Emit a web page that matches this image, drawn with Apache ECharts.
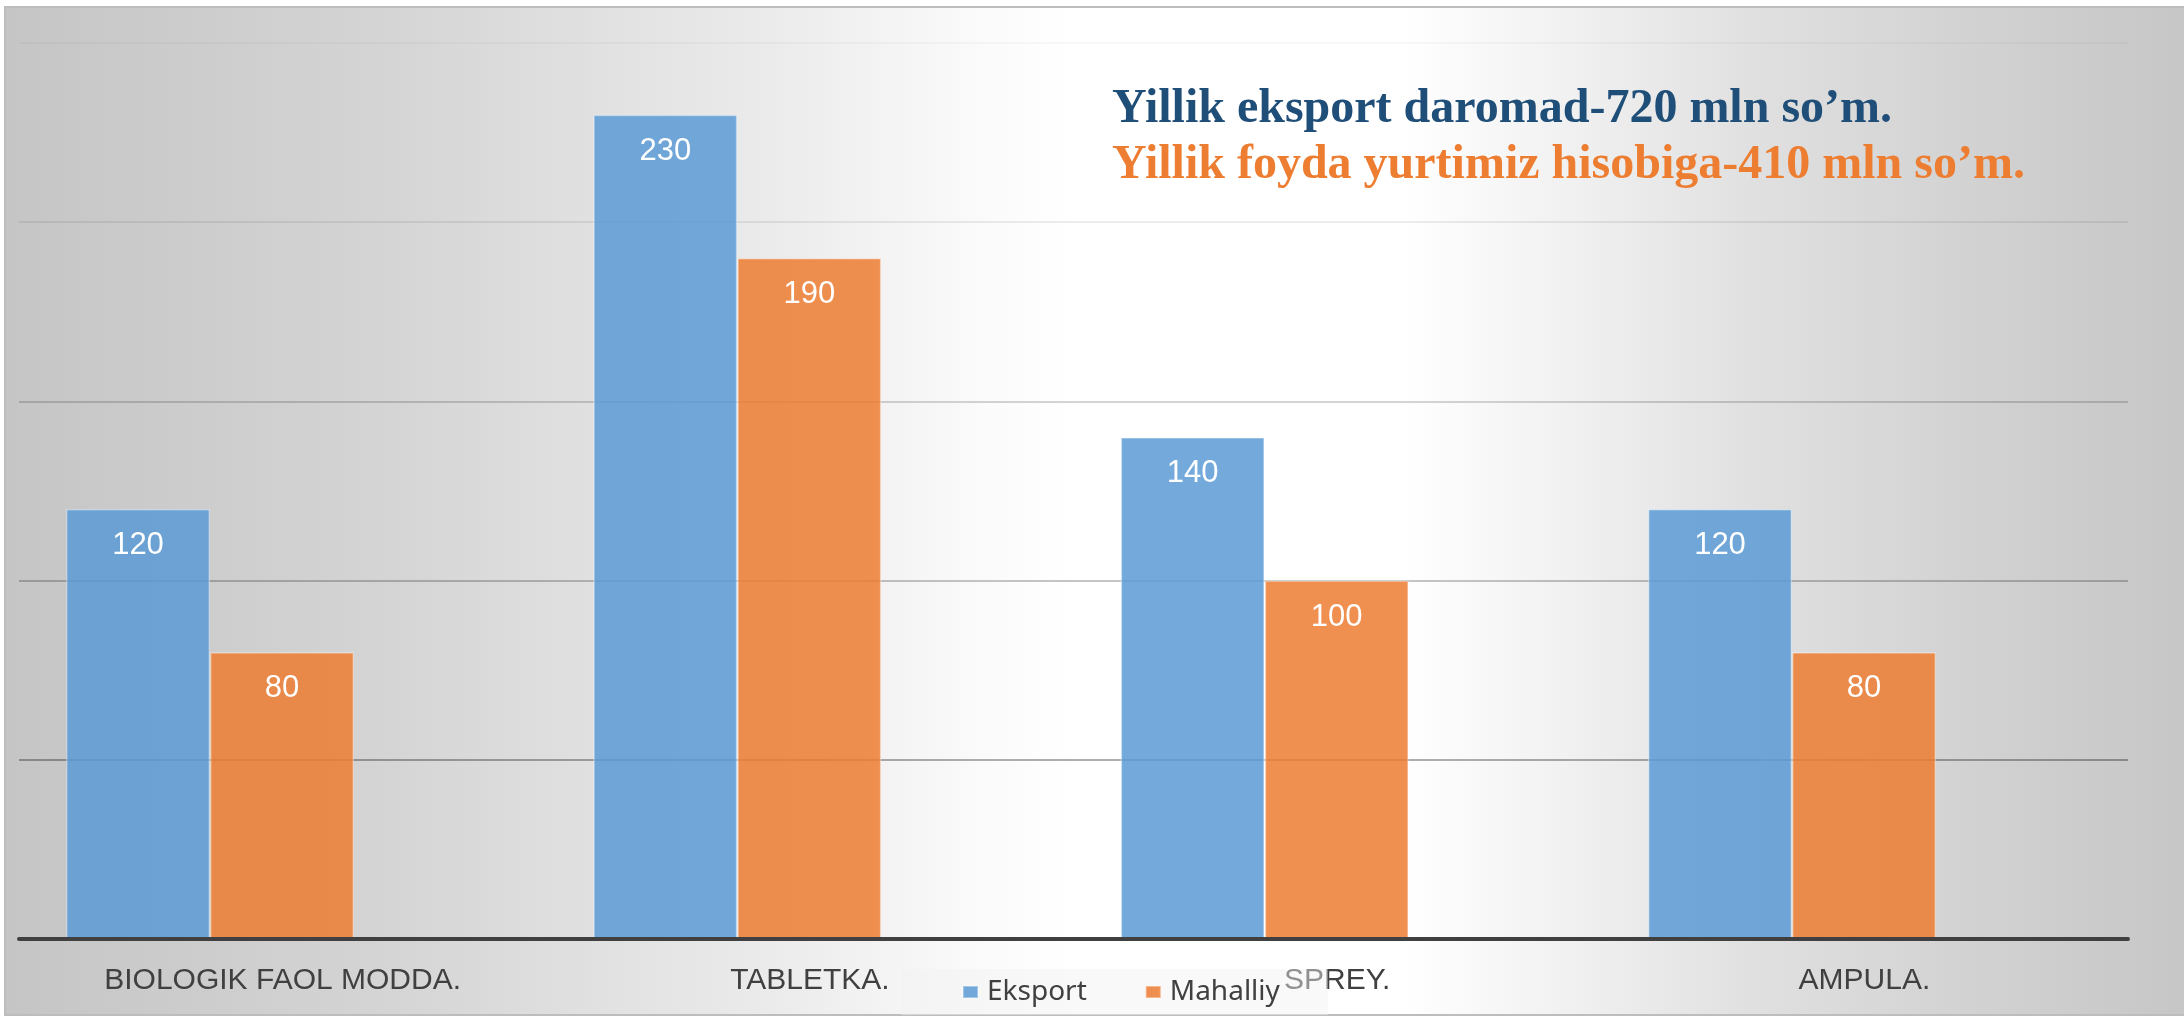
<!DOCTYPE html>
<html>
<head>
<meta charset="utf-8">
<script src="https://cdn.jsdelivr.net/npm/echarts@6/dist/echarts.min.js"></script>
<style>
html,body{margin:0;padding:0;background:#fff;}
#chart{width:2184px;height:1019px;}
</style>
</head>
<body>
<div id="chart"></div>
<script>
const categories = ['BIOLOGIK FAOL MODDA.', 'TABLETKA.', 'SPREY.', 'AMPULA.'];
const seriesNames = ['Eksport', 'Mahalliy'];
const eksport = [120, 230, 140, 120];
const mahalliy = [80, 190, 100, 80];
const titleLine1 = 'Yillik eksport daromad-720 mln so’m.';
const titleLine2 = 'Yillik foyda yurtimiz hisobiga-410 mln so’m.';
const yMin = 0, yMax = 250, yStep = 50;

const chart = echarts.init(document.getElementById('chart'), null, {renderer: 'canvas'});

const bgFill = new echarts.graphic.LinearGradient(0, 0, 1, 0, [
  {offset: 0, color: '#c5c5c5'},
  {offset: 0.18, color: '#d5d5d5'},
  {offset: 0.35, color: '#ebebeb'},
  {offset: 0.45, color: '#fbfbfb'},
  {offset: 0.49, color: '#ffffff'},
  {offset: 0.64, color: '#ffffff'},
  {offset: 0.72, color: '#f0f0f0'},
  {offset: 0.80, color: '#e0e0e0'},
  {offset: 0.90, color: '#d2d2d2'},
  {offset: 1, color: '#c6c6c6'}
]);

const labelStyle = {
  show: true, position: 'insideTop', distance: 21,
  color: '#ffffff', fontSize: 31, fontFamily: 'Liberation Sans, Arial, sans-serif'
};

const option = {
  animation: false,
  backgroundColor: '#ffffff',
  graphic: [{
    type: 'rect', z: -100, silent: true,
    shape: {x: 5, y: 7, width: 2185, height: 1008},
    style: {fill: bgFill, stroke: '#bdbdbd', lineWidth: 2}
  }],
  title: [{
    text: titleLine1, left: 1112, top: 86, padding: 0,
    textStyle: {fontFamily: 'Liberation Serif, Times New Roman, serif', fontWeight: 'bold', fontSize: 48, color: '#1f4e79'}
  }, {
    text: titleLine2, left: 1112, top: 142, padding: 0,
    textStyle: {fontFamily: 'Liberation Serif, Times New Roman, serif', fontWeight: 'bold', fontSize: 48, color: '#ed7d31'}
  }],
  legend: {
    data: seriesNames, left: 902, top: 969, padding: [9, 48, 9, 60],
    itemWidth: 15, itemHeight: 12, itemGap: 58, icon: 'rect',
    backgroundColor: 'rgba(242,242,242,0.45)', z: 10,
    textStyle: {fontFamily: 'Noto Sans, sans-serif', fontSize: 28, color: '#404040', padding: [0, 0, 0, 4]}
  },
  grid: [
    {left: 19, right: 56, top: 43, bottom: 80},
    {left: 210, right: 392, top: 43, bottom: 80}
  ],
  xAxis: [{
    type: 'category', gridIndex: 0, data: categories, z: 5,
    axisLine: {lineStyle: {color: '#404040', width: 4}},
    axisTick: {show: false},
    axisLabel: {interval: 0, margin: 27, fontSize: 30, fontFamily: 'Liberation Sans, Arial, sans-serif', color: '#404040'}
  }, {
    type: 'category', gridIndex: 1, data: categories, show: false, boundaryGap: false
  }],
  yAxis: [{
    type: 'value', gridIndex: 0, min: yMin, max: yMax, interval: yStep,
    axisLabel: {show: false}, axisLine: {show: false}, axisTick: {show: false},
    splitLine: {lineStyle: {width: 1.5, color: [
      'rgba(0,0,0,0)', 'rgba(0,0,0,0.42)', 'rgba(0,0,0,0.30)', 'rgba(0,0,0,0.22)', 'rgba(0,0,0,0.10)', 'rgba(0,0,0,0.04)'
    ]}}
  }, {
    type: 'value', gridIndex: 1, min: yMin, max: yMax, interval: yStep, show: false
  }],
  series: [{
    name: seriesNames[0], type: 'bar', xAxisIndex: 1, yAxisIndex: 1, data: eksport,
    barWidth: 144, barGap: '0%', clip: false,
    itemStyle: {color: 'rgba(91,155,213,0.85)', borderColor: 'rgba(255,255,255,0.35)', borderWidth: 1.5},
    label: labelStyle
  }, {
    name: seriesNames[1], type: 'bar', xAxisIndex: 1, yAxisIndex: 1, data: mahalliy,
    barWidth: 144, barGap: '0%', clip: false,
    itemStyle: {color: 'rgba(237,125,49,0.85)', borderColor: 'rgba(255,255,255,0.35)', borderWidth: 1.5},
    label: labelStyle
  }]
};
chart.setOption(option);
</script>
</body>
</html>
